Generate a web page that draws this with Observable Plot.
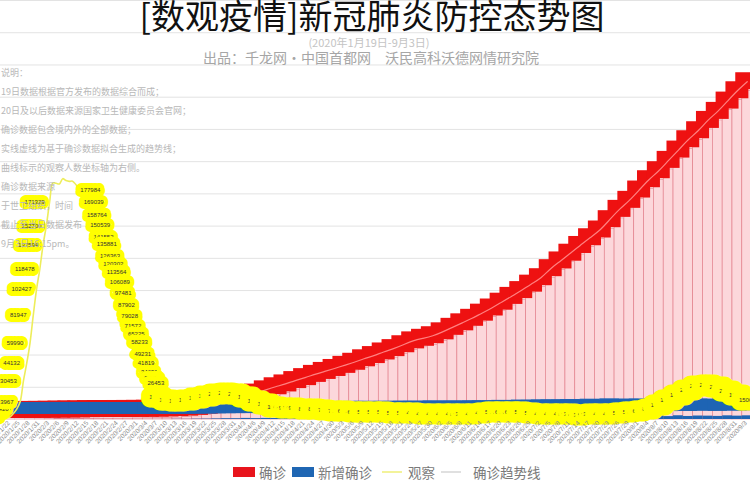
<!DOCTYPE html>
<html><head><meta charset="utf-8">
<script src="https://cdn.jsdelivr.net/npm/d3@7"></script>
<script src="https://cdn.jsdelivr.net/npm/@observablehq/plot@0.6"></script>
<style>
body{margin:0;background:#fff;font-family:"Noto Sans CJK SC","Noto Sans",sans-serif;}
#wrap{position:relative;width:750px;height:500px;overflow:hidden;background:#fff;}
#chart{position:absolute;left:0;top:0;}
.title{position:absolute;left:0;width:744px;top:-5px;text-align:center;font-size:34px;line-height:40px;color:#111;white-space:nowrap;}
.sub1{position:absolute;left:0;width:738px;top:36px;text-align:center;font-size:11px;line-height:13px;color:#c4c4c4;}
.sub2{position:absolute;left:0;width:742px;top:49px;text-align:center;font-size:14px;line-height:17px;color:#a6a6a6;}
.notes{position:absolute;left:1px;top:63px;font-size:9px;line-height:19px;color:#b8b8b8;}
.legend{position:absolute;left:233px;top:463px;display:flex;align-items:center;font-size:13.5px;color:#7a7a7a;line-height:18px;}
.sq{display:inline-block;width:22px;height:10px;margin-right:4px;}
.ln{display:inline-block;width:20px;height:2px;margin-right:6px;}
</style></head>
<body>
<div id="wrap">
  <div id="chart"></div>
  <div class="title">[数观疫情]新冠肺炎防控态势图</div>
  <div class="sub1">(2020年1月19日-9月3日)</div>
  <div class="sub2">出品：千龙网•中国首都网　沃民高科沃德网情研究院</div>
  <div class="notes" id="notes"></div>
  <div class="legend" id="legend"></div>
</div>
<script>
// ---- text ----
const noteLines = [
  "说明：",
  "19日数据根据官方发布的数据综合而成；",
  "20日及以后数据来源国家卫生健康委员会官网；",
  "确诊数据包含境内外的全部数据；",
  "实线虚线为基于确诊数据拟合生成的趋势线；",
  "曲线标示的观察人数坐标轴为右侧。",
  "确诊数据来源",
  "于世卫组织，时间",
  "截止至当日数据发布",
  "9月3日16:15pm。"
];
const legendItems = ["确诊", "新增确诊", "观察", "确诊趋势线"];

// ---- data (every 3 days from 2020-01-19 to 2020-09-03) ----
// 确诊 (cumulative, millions, left axis)
const confirmedValues = [
  0.0003, 0.0006, 0.0020, 0.0056, 0.0099, 0.0200, 0.0310, 0.0400, 0.0450, 0.0690,
  0.0750, 0.0770, 0.0790, 0.0830, 0.0880, 0.0950, 0.1060, 0.1190, 0.1460, 0.1850,
  0.2420, 0.3370, 0.4680, 0.6630, 0.8570, 1.10, 1.35, 1.60, 1.84, 2.06,
  2.32, 2.55, 2.80, 3.03, 3.26, 3.50, 3.74, 4.01, 4.26, 4.54,
  4.80, 5.10, 5.40, 5.60, 5.80, 6.10, 6.45, 6.80, 7.15, 7.55,
  7.95, 8.40, 8.85, 9.30, 9.80, 10.3, 11.0, 11.6, 12.2, 12.8,
  13.4, 14.0, 14.8, 15.6, 16.3, 17.1, 17.9, 18.6, 19.4, 20.2,
  21.0, 21.7, 22.5, 23.2, 24.0, 24.8, 25.5
];
// 新增确诊 (daily new, millions, left axis)
const newValues = [
  0.0000, 0.0001, 0.0007, 0.0026, 0.0021, 0.0032, 0.0037, 0.0031, 0.0020, 0.0021,
  0.0019, 0.0010, 0.0004, 0.0012, 0.0016, 0.0023, 0.0038, 0.0047, 0.0164, 0.0141,
  0.028, 0.033, 0.049, 0.064, 0.063, 0.085, 0.070, 0.085, 0.077, 0.082,
  0.081, 0.076, 0.088, 0.071, 0.085, 0.080, 0.090, 0.090, 0.085, 0.096,
  0.090, 0.106, 0.098, 0.105, 0.125, 0.103, 0.128, 0.104, 0.136, 0.133,
  0.140, 0.165, 0.155, 0.190, 0.165, 0.210, 0.195, 0.215, 0.230, 0.220,
  0.255, 0.215, 0.285, 0.215, 0.270, 0.260, 0.255, 0.285, 0.225, 0.290,
  0.235, 0.270, 0.260, 0.240, 0.285, 0.260, 0.285
];
// 观察 (people under medical observation, right axis)
// daily 1/20 - 3/4
const observeDaily = [
  922, 1394, 2197, 4928, 8420, 13967, 30453, 44132, 59990, 81947, 102427, 118478,
  137594, 152700, 171329, 186354, 186045, 185555, 189660, 188183, 187518, 187728,
  185037, 181386, 177984, 169039, 158764, 150539, 141552, 135881, 126363, 120302,
  113564, 106089, 97481, 87902, 79028, 71572, 65225, 58233, 49231,
  41819, 34651, 30012, 26453
];
// every 3 days 3/7 - 9/3
const observeLater = [
  17910, 15000, 14500, 15000, 16500, 18500, 20000, 21000, 20071, 18000,
  14500, 12000, 10000, 9300, 9000, 8600, 8000, 7500, 7000, 6500,
  6000, 5500, 5600, 5500, 5300, 5000, 4800, 4500, 4300, 4200,
  4000, 3900, 4000, 4800, 5600, 6000, 6000, 5600, 5000, 4600,
  4200, 4000, 3900, 3800, 3900, 4200, 4600, 5000, 5600, 6500,
  8000, 11000, 15000, 19000, 23000, 26000, 27000, 25500, 22500, 19000,
  15000
];

// ---- scales ----
const yMax = 32.5;          // left axis (millions)
const obsMax = 330000;      // right axis (people)
const k = yMax / obsMax;
const plotH = 450, mB = 31;
const pxM = yMax / (plotH - mB);

const start = new Date(Date.UTC(2020, 0, 19));
const endDate = new Date(Date.UTC(2020, 8, 4));
const rows = confirmedValues.map((c, i) => ({date: d3.utcDay.offset(start, i * 3), c, n: newValues[i]}));
const obsDates = d3.utcDay.range(new Date(Date.UTC(2020,0,20)), new Date(Date.UTC(2020,2,5)))
  .concat(d3.utcDay.range(new Date(Date.UTC(2020,2,7)), endDate, 3));
const obsValues = observeDaily.concat(observeLater);
const obs = obsDates.map((date, i) => ({date, v: obsValues[i]}));
const tickDates = d3.utcDay.range(start, endDate, 3);
const fmtTick = d3.utcFormat("%Y/%-m/%-d");

const t = (m, h) => d3.utcHour.offset(m, h);
const feb4 = Date.UTC(2020,1,4), feb13 = Date.UTC(2020,1,13), mar5 = Date.UTC(2020,2,5);
const obsRising = obs.filter(d => +d.date < feb4);
const obsFalling = obs.filter(d => +d.date >= feb13 && +d.date < mar5);
const obsLater = obs.filter(d => +d.date >= mar5);

const labelStyle = {fontSize: 6, fill: "#333", stroke: "#ffff00", strokeWidth: 10,
  strokeLinejoin: "round", paintOrder: "stroke", fontFamily: "Liberation Sans, Arial, sans-serif"};

const chart = Plot.plot({
  width: 750, height: plotH,
  marginLeft: 0, marginRight: 0, marginTop: 0, marginBottom: mB,
  style: {overflow: "hidden", background: "transparent", fontFamily: "Liberation Sans, Arial, sans-serif"},
  x: {type: "utc", domain: [start, endDate], axis: null},
  y: {domain: [0, yMax], axis: null},
  marks: [
    Plot.ruleY(d3.range(2.5, yMax + 0.1, 2.5), {stroke: "#e3e3e3", strokeWidth: 1}),
    // 确诊 bars
    Plot.rect(rows, {x1: d => t(d.date, -36), x2: d => t(d.date, 36), y1: 0, y2: "c",
      fill: "#fcd7db", stroke: "#e07784", strokeWidth: 0.6}),
    // 确诊 label boxes
    Plot.rect(rows, {x1: d => t(d.date, -84), x2: d => t(d.date, 84),
      y1: d => d.c + 1 * pxM, y2: d => d.c + 18 * pxM, fill: "#ee1111"}),
    // 确诊趋势线
    Plot.line(rows, {x: "date", y: d => d.c + 9 * pxM, stroke: "#ff8080", strokeWidth: 1.2, curve: "natural"}),
    // 新增确诊 bars + label boxes
    Plot.rect(rows, {x1: d => t(d.date, -36), x2: d => t(d.date, 36), y1: 0, y2: "n", fill: "#1e64b4"}),
    Plot.rect(rows, {x1: d => t(d.date, -72), x2: d => t(d.date, 72),
      y1: d => d.n + 5 * pxM, y2: d => d.n + 17 * pxM, fill: "#1e64b4"}),
    // 观察 line + labels
    Plot.line(obs, {x: "date", y: d => d.v * k, stroke: "#eded5a", strokeWidth: 1.6, curve: "catmull-rom"}),
    Plot.text(obsRising, {x: "date", y: d => d.v * k, text: d => String(d.v), dx: -15, ...labelStyle}),
    Plot.text(obsFalling, {x: "date", y: d => d.v * k, text: d => String(d.v), dx: 8, dy: -3, ...labelStyle}),
    Plot.text(obsLater, {x: "date", y: d => d.v * k, text: d => String(d.v), ...labelStyle, strokeWidth: 17}),
    // x tick labels
    Plot.text(tickDates, {x: d => d, frameAnchor: "bottom", dy: 4, rotate: -45, textAnchor: "end",
      text: d => fmtTick(d), fontSize: 6.5, fill: "#8a8a8a"})
  ]
});
document.getElementById("chart").appendChild(chart);

document.getElementById("notes").innerHTML = noteLines.map(s => `<div>${s}</div>`).join("");

const lg = document.getElementById("legend");
lg.innerHTML =
  `<span class="sq" style="background:#e8141c"></span><span style="margin-right:6px">${legendItems[0]}</span>` +
  `<span class="sq" style="background:#1f66b3"></span><span style="margin-right:10px">${legendItems[1]}</span>` +
  `<span class="ln" style="background:#f3f39a"></span><span style="margin-right:6px">${legendItems[2]}</span>` +
  `<span class="ln" style="background:#e0e0e0;margin-right:12px"></span><span>${legendItems[3]}</span>`;
</script>
</body></html>
